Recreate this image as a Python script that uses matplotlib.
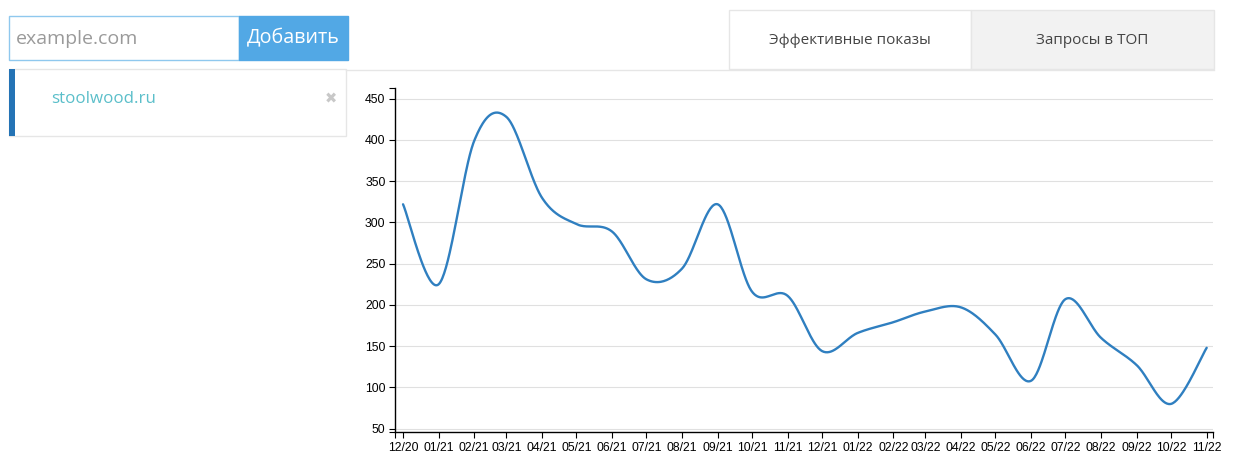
"""Effective impressions chart for stoolwood.ru, with the surrounding page widgets."""

from datetime import datetime

import matplotlib
matplotlib.use("Agg")
import matplotlib.dates as mdates
import matplotlib.pyplot as plt
import numpy as np
from matplotlib.patches import Rectangle

# monthly values
months = ["2020-12", "2021-01", "2021-02", "2021-03", "2021-04", "2021-05",
          "2021-06", "2021-07", "2021-08", "2021-09", "2021-10", "2021-11",
          "2021-12", "2022-01", "2022-02", "2022-03", "2022-04", "2022-05",
          "2022-06", "2022-07", "2022-08", "2022-09", "2022-10", "2022-11"]
values = [322, 225, 399, 428, 330, 298, 289, 231, 244, 322, 216, 211,
          144, 166, 179, 192, 197, 164, 108, 207, 160, 127, 80, 148]
y_ticks = [50, 100, 150, 200, 250, 300, 350, 400, 450]

site = "stoolwood.ru"
placeholder = "example.com"
add_label = "Добавить"
tab_labels = ["Эффективные показы", "Запросы в ТОП"]

W, H = 1238, 455
UI_FONT = ["Open Sans", "DejaVu Sans"]
AX_FONT = ["Liberation Sans", "DejaVu Sans"]


def cardinal(x, y, n=40):
    """d3.curveCardinal (tension 0) sampled as cubic Beziers."""
    px = np.r_[x[0], x, x[-1]]
    py = np.r_[y[0], y, y[-1]]
    t = np.linspace(0, 1, n)[:, None]
    xs, ys = [], []
    for i in range(len(x) - 1):
        p = np.array([[px[i + j], py[i + j]] for j in range(4)])
        c1 = p[1] + (p[2] - p[0]) / 6
        c2 = p[2] - (p[3] - p[1]) / 6
        b = ((1 - t) ** 3 * p[1] + 3 * (1 - t) ** 2 * t * c1
             + 3 * (1 - t) * t ** 2 * c2 + t ** 3 * p[2])
        xs.append(b[:, 0]); ys.append(b[:, 1])
    return np.concatenate(xs), np.concatenate(ys)


def main():
    fig = plt.figure(figsize=(W / 100, H / 100), dpi=100)

    # page widgets drawn in pixel coordinates
    bg = fig.add_axes([0, 0, 1, 1])
    bg.set_xlim(0, W); bg.set_ylim(H, 0); bg.axis("off")

    bg.add_patch(Rectangle((9, 16), 230, 44, fc="white", ec="#8fc8ee", lw=1))
    bg.add_patch(Rectangle((239, 16), 109, 44, fc="#52a8e5", ec="#52a8e5", lw=1))
    bg.text(16, 39, placeholder, family=UI_FONT, size=14.0, color="#9a9a9a",
            va="center", ha="left")
    bg.text(293.5, 38, add_label, family=UI_FONT, size=14.2, color="white",
            va="center", ha="center")

    bg.add_patch(Rectangle((9, 69), 337, 67, fc="white", ec="#e6e6e6", lw=1))
    bg.add_patch(Rectangle((9, 69), 6, 67, fc="#2473b5", ec="none"))
    bg.text(51, 99, site, family=UI_FONT, size=12.2, color="#5bbfca",
            va="center", ha="left")
    bg.text(331, 99, "\u2716", family=["DejaVu Sans"], size=10.5, color="#c8c8c8",
            va="center", ha="center")

    bg.plot([346, 1214], [69.5, 69.5], color="#e6e6e6", lw=1)
    bg.add_patch(Rectangle((729, 10), 242, 59, fc="white", ec="#e6e6e6", lw=1))
    bg.add_patch(Rectangle((971, 10), 243, 59, fc="#f2f2f2", ec="#e6e6e6", lw=1))
    bg.text(850, 41, tab_labels[0], family=UI_FONT, size=11, color="#444444",
            va="center", ha="center")
    bg.text(1092.5, 41, tab_labels[1], family=UI_FONT, size=11, color="#444444",
            va="center", ha="center")

    # chart
    left, right, top, bottom = 395, 1213, 88, 431.5
    ax = fig.add_axes([left / W, (H - bottom) / H, (right - left) / W, (bottom - top) / H])
    ax.patch.set_alpha(0)

    x = mdates.date2num([datetime.strptime(m, "%Y-%m") for m in months])
    cx, cy = cardinal(x, np.array(values, dtype=float))
    ax.plot(cx, cy, color="#2f7fc0", lw=1.7, solid_capstyle="round", zorder=3)

    x0 = mdates.date2num(datetime(2020, 11, 24))
    x1 = mdates.date2num(datetime(2022, 11, 6, 12))
    ax.set_xlim(x0, x1)
    ax.set_ylim(46.5, 463)

    for v in y_ticks:
        ax.axhline(v, color="#e0e0e0", lw=0.8, zorder=1)

    ax.set_xticks(x)
    ax.xaxis.set_major_formatter(mdates.DateFormatter("%m/%y"))
    ax.set_yticks(y_ticks)
    ax.set_xticks([x0, x1], minor=True)
    ax.set_yticks([46.5, 463], minor=True)

    for side in ("top", "right"):
        ax.spines[side].set_visible(False)
    for side in ("left", "bottom"):
        ax.spines[side].set_linewidth(1)
        ax.spines[side].set_color("black")
    ax.tick_params(which="both", length=4.3, width=0.8, color="black", direction="out")
    ax.tick_params(axis="x", labelsize=8.8, pad=3.2, labelcolor="black")
    ax.tick_params(axis="y", labelsize=8.8, pad=2.5, labelcolor="black")
    for lab in ax.get_xticklabels() + ax.get_yticklabels():
        lab.set_family(AX_FONT)

    fig.savefig("out.png", dpi=100)
    plt.close(fig)


if __name__ == "__main__":
    main()
